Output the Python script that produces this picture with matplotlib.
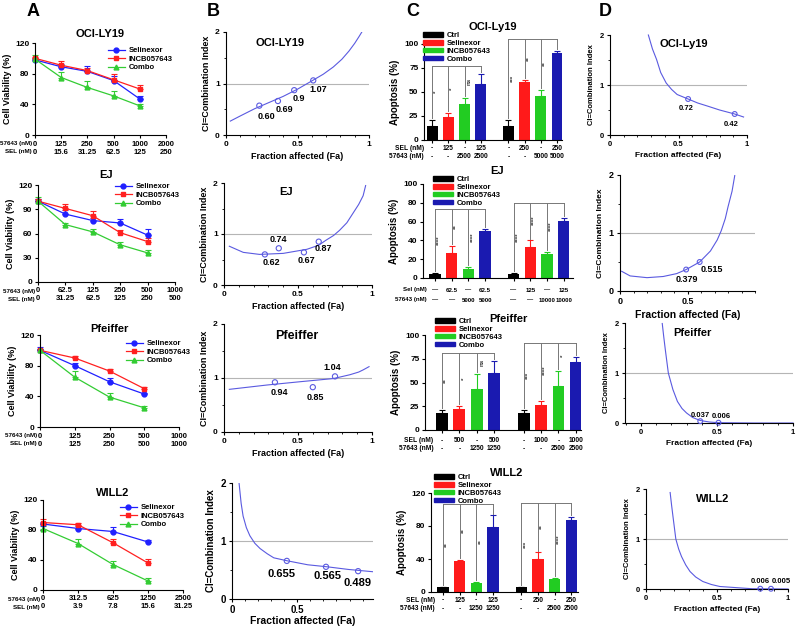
import numpy as np
import matplotlib.pyplot as plt
from matplotlib.patches import Patch
from matplotlib.lines import Line2D
from matplotlib.ticker import MultipleLocator

plt.rcParams['font.family'] = ['Liberation Sans', 'DejaVu Sans']
plt.rcParams['font.weight'] = 'bold'
plt.rcParams['axes.labelweight'] = 'bold'
plt.rcParams['axes.linewidth'] = 0.8
plt.rcParams['xtick.major.width'] = 0.8
plt.rcParams['ytick.major.width'] = 0.8
plt.rcParams['xtick.major.size'] = 2.5
plt.rcParams['ytick.major.size'] = 2.5
plt.rcParams['xtick.minor.size'] = 1.5
plt.rcParams['ytick.minor.size'] = 1.5

W, H = 796, 626

# ---------------- A: cell viability
a_titles = ['OCI-LY19', 'EJ', 'Pfeiffer', 'WILL2']
a_incb_ticks = [['0', '125', '250', '500', '1000', '2000'],
                ['0', '62.5', '125', '250', '500', '1000'],
                ['0', '125', '250', '500', '1000'],
                ['0', '312.5', '625', '1250', '2500']]
a_sel_ticks = [['0', '15.6', '31.25', '62.5', '125', '250'],
               ['0', '31.25', '62.5', '125', '250', '500'],
               ['0', '125', '250', '500', '1000'],
               ['0', '3.9', '7.8', '15.6', '31.25']]
a_sel = [[98, 89, 83, 71, 47], [100, 84, 76, 73, 58], [100, 80, 59, 43], [88, 82, 78, 64]]
a_sel_err = [[3, 3, 7, 6, 4], [3, 5, 3, 5, 7], [4, 3, 5, 2], [3, 3, 6, 3]]
a_incb = [[100, 91, 84, 72, 60], [100, 91, 82, 61, 50], [100, 90, 73, 50], [90, 87, 63, 36]]
a_incb_err = [[2, 6, 3, 8, 5], [3, 5, 6, 3, 4], [2, 3, 3, 2], [5, 2, 5, 6]]
a_combo = [[99, 75, 62, 51, 38], [100, 71, 62, 46, 36], [100, 65, 39, 25], [82, 62, 34, 12]]
a_combo_err = [[5, 7, 8, 6, 2], [5, 2, 3, 4, 3], [2, 8, 6, 2], [3, 6, 5, 4]]
a_yticks = [[0, 40, 80, 120], [0, 30, 60, 90, 120], [0, 40, 80, 120], [0, 40, 80, 120]]

# ---------------- B: combination index, SEL + INCB057643
b_titles = ['OCI-LY19', 'EJ', 'Pfeiffer', '']
b_curve_fa = [[0.03, 0.10, 0.20, 0.30, 0.40, 0.50, 0.60, 0.68, 0.75, 0.81, 0.86, 0.90, 0.93, 0.95],
              [0.036, 0.13, 0.24, 0.40, 0.56, 0.64, 0.69, 0.74, 0.78, 0.83, 0.87, 0.91, 0.94, 0.957],
              [0.036, 0.29, 0.51, 0.74, 0.85, 0.91, 0.94, 0.98],
              [0.054, 0.07, 0.085, 0.11, 0.137, 0.175, 0.215, 0.27, 0.32, 0.42, 0.58, 0.73, 0.89, 1.08]]
b_curve_ci = [[0.27, 0.37, 0.51, 0.63, 0.75, 0.89, 1.05, 1.18, 1.32, 1.47, 1.63, 1.78, 1.91, 2.0],
              [0.76, 0.64, 0.60, 0.62, 0.70, 0.78, 0.88, 0.97, 1.07, 1.22, 1.40, 1.58, 1.75, 1.95],
              [0.79, 0.87, 0.93, 0.99, 1.06, 1.11, 1.15, 1.21],
              [2.0, 1.65, 1.43, 1.23, 1.09, 0.96, 0.87, 0.78, 0.71, 0.66, 0.59, 0.555, 0.51, 0.47]]
b_fa = [[0.233, 0.363, 0.477, 0.61], [0.276, 0.37, 0.54, 0.64], [0.344, 0.60, 0.75], [0.42, 0.72, 0.966]]
b_ci = [[0.57, 0.66, 0.87, 1.06], [0.60, 0.72, 0.64, 0.85], [0.92, 0.83, 1.03], [0.657, 0.555, 0.48]]
b_labels = [['0.60', '0.69', '0.9', '1.07'], ['0.62', '0.74', '0.67', '0.87'],
            ['0.94', '0.85', '1.04'], ['0.655', '0.565', '0.489']]

# ---------------- C: apoptosis
c_titles = ['OCI-Ly19', 'EJ', 'Pfeiffer', 'WILL2']
c_names = ['Ctrl', 'Selinexor', 'INCB057643', 'Combo']
c_means = [[15, 24, 37.5, 58, 15, 60, 46, 91],
           [4, 26.5, 10, 50, 4, 33, 26, 60.5],
           [18, 22, 43, 60, 18, 26, 46.5, 72],
           [5.5, 37, 10.5, 79, 5.5, 40, 16, 87.5]]
c_errs = [[6, 4, 6.5, 11, 6, 2.5, 6, 1.5],
          [1, 7.5, 1.5, 2.5, 1, 7, 2, 3],
          [3, 3.5, 16, 13, 3, 5, 16, 5],
          [1, 2, 1.5, 14, 1, 8, 1.5, 3.5]]
c_stars = [['*', '*', 'ns', '***', '**', '**'],
           ['****', '**', '****', '****', '****', '****'],
           ['**', '*', 'ns', '***', '****', '*'],
           ['**', '**', '**', '***', '**', '****']]
c_row_names = [('SEL (nM)', '57643 (nM)'), ('Sel (nM)', '57643 (nM)'),
               ('SEL (nM)', '57643 (nM)'), ('SEL (nM)', '57643 (nM)')]
c_sel_row = [['-', '125', '-', '125', '-', '250', '-', '250'],
             ['\u2014', '62.5', '\u2014', '62.5', '\u2014', '125', '\u2014', '125'],
             ['-', '500', '-', '500', '-', '1000', '-', '1000'],
             ['-', '125', '-', '125', '-', '250', '-', '250']]
c_incb_row = [['-', '-', '2500', '2500', '-', '-', '5000', '5000'],
              ['\u2014', '\u2014', '5000', '5000', '\u2014', '\u2014', '10000', '10000'],
              ['-', '-', '1250', '1250', '-', '-', '2500', '2500'],
              ['-', '-', '1250', '1250', '-', '-', '2500', '2500']]
c_yticks = [[0, 25, 50, 75, 100], [0, 20, 40, 60, 80, 100], [0, 25, 50, 75, 100], [0, 40, 80, 120]]

# ---------------- D: combination index, second combination
d_titles = ['OCI-Ly19', '', 'Pfeiffer', 'WILL2']
d_curve_fa = [[0.28, 0.31, 0.34, 0.37, 0.41, 0.45, 0.49, 0.57, 0.64, 0.71, 0.80, 0.91, 0.975],
              [0.012, 0.075, 0.2, 0.32, 0.42, 0.49, 0.59, 0.67, 0.72, 0.75, 0.78, 0.80, 0.83, 0.85],
              [0.14, 0.15, 0.16, 0.18, 0.21, 0.24, 0.27, 0.30, 0.34, 0.39, 0.45, 0.51, 0.74, 1.0],
              [0.17, 0.18, 0.19, 0.21, 0.23, 0.25, 0.28, 0.31, 0.35, 0.40, 0.46, 0.52, 0.75, 1.0]]
d_curve_ci = [[2.0, 1.72, 1.51, 1.25, 1.04, 0.91, 0.81, 0.72, 0.64, 0.58, 0.50, 0.42, 0.36],
              [0.34, 0.26, 0.23, 0.25, 0.30, 0.37, 0.50, 0.69, 0.88, 1.04, 1.25, 1.45, 1.72, 1.99],
              [1.99, 1.72, 1.47, 1.0, 0.67, 0.43, 0.29, 0.20, 0.11, 0.05, 0.02, 0.006, 0.0, 0.0],
              [1.93, 1.68, 1.45, 1.0, 0.80, 0.65, 0.48, 0.35, 0.24, 0.15, 0.09, 0.05, 0.005, 0.0]]
d_fa = [[0.57, 0.91], [0.49, 0.59], [0.39, 0.51], [0.805, 0.88]]
d_ci = [[0.72, 0.42], [0.37, 0.50], [0.037, 0.006], [0.006, 0.005]]
d_labels = [['0.72', '0.42'], ['0.379', '0.515'], ['0.037', '0.006'], ['0.006', '0.005']]

fig = plt.figure(figsize=(W / 100, H / 100), dpi=100)


def add_ax(l, t, r, b):
    return fig.add_axes([l / W, 1 - b / H, (r - l) / W, (b - t) / H])


def fpt(px, py):
    return (px / W, 1 - py / H)


for lbl, px in zip('ABCD', [33, 213, 413, 605]):
    fig.text(*fpt(px, 12), lbl, fontsize=13, weight='bold', ha='center', va='center')

# ---- column A
a_boxes = [(35, 43, 166, 135), (38, 185, 175, 282), (40, 335, 179, 427), (43, 500, 183, 590)]
a_title_y = [34, 175, 329, 493]
a_leg = [(108, 47), (115, 183), (126, 340), (120, 504)]
a_series = [(a_sel, a_sel_err, '#2020ff', 'o', 'Selinexor'),
            (a_incb, a_incb_err, '#ff2020', 's', 'INCB057643'),
            (a_combo, a_combo_err, '#33cc33', '^', 'Combo')]
for k in range(4):
    ax = add_ax(*a_boxes[k])
    handles = []
    for vals, errs, col, mk, lab in a_series:
        v = vals[k]
        e = errs[k]
        x = np.arange(len(v))
        ax.errorbar(x, v, yerr=[np.zeros(len(e)), e], color=col, marker=mk, ms=3.5, lw=0.9,
                    elinewidth=0.8, capsize=2, capthick=0.8, clip_on=False)
        handles.append(Line2D([], [], color=col, marker=mk, ms=3.5, lw=0.9, label=lab))
    nt = len(a_incb_ticks[k])
    ax.set_xlim(0, nt - 1)
    ax.set_ylim(0, 120)
    ax.set_yticks(a_yticks[k])
    ax.set_xticks(range(nt))
    ax.set_xticklabels([])
    ax.tick_params(labelsize=6, pad=1.5)
    for i in range(nt):
        ax.annotate(a_incb_ticks[k][i], xy=(i, 0), xycoords=('data', 'axes fraction'), xytext=(0, -9),
                    textcoords='offset pixels', ha='center', va='center', fontsize=5.5)
        ax.annotate(a_sel_ticks[k][i], xy=(i, 0), xycoords=('data', 'axes fraction'), xytext=(0, -17),
                    textcoords='offset pixels', ha='center', va='center', fontsize=5.5)
    ax.annotate('57643 (nM)', xy=(0, 0), xycoords='axes fraction', xytext=(-3, -9),
                textcoords='offset pixels', ha='right', va='center', fontsize=4.5)
    ax.annotate('SEL (nM)', xy=(0, 0), xycoords='axes fraction', xytext=(-3, -17),
                textcoords='offset pixels', ha='right', va='center', fontsize=4.5)
    ax.spines[['top', 'right']].set_visible(False)
    ax.set_ylabel('Cell Viability (%)', fontsize=6.5, labelpad=2)
    x0, y0, w0, h0 = ax.get_position().bounds
    fig.text(x0 + w0 / 2, 1 - a_title_y[k] / H, a_titles[k], fontsize=8, ha='center', va='center')
    ax.legend(handles=handles, loc='upper left', bbox_to_anchor=fpt(*a_leg[k]), bbox_transform=fig.transFigure,
              frameon=False, fontsize=5.5, handlelength=2.2, handletextpad=0.5, labelspacing=0.15,
              borderaxespad=0, borderpad=0)


def ci_axes(ax, xlim, xticks, fs_tick, fs_xl, fs_yl, xpad=3):
    ax.axhline(1, color='#b5b5b5', lw=0.8, zorder=0)
    ax.set_xlim(*xlim)
    ax.set_ylim(0, 2)
    ax.set_xticks(xticks)
    ax.set_xticklabels([('%g' % t) for t in xticks])
    ax.set_yticks([0, 1, 2])
    ax.xaxis.set_minor_locator(MultipleLocator(0.1))
    ax.yaxis.set_minor_locator(MultipleLocator(0.5))
    ax.tick_params(labelsize=fs_tick, pad=2)
    ax.spines[['top', 'right']].set_visible(False)
    ax.set_xlabel('Fraction affected (Fa)', fontsize=fs_xl, labelpad=xpad)
    ax.set_ylabel('CI=Combination Index', fontsize=fs_yl, labelpad=3)


curve_col = '#5a5ae0'

# ---- column B
b_boxes = [(226, 32, 369, 135), (224, 183, 372, 285), (224, 324, 372, 432), (232, 483, 373, 599)]
b_xlims = [(0, 1), (0, 1), (0, 1), (0, 1.08)]
b_xticks = [[0, 0.5, 1], [0, 0.5, 1], [0, 0.5, 1], [0, 0.5]]
b_title_pos = [(0.38, 1.79, 8), (0.42, 1.82, 8), (0.49, 1.77, 9), (0, 0, 8)]
b_offs = [[(7, -11), (7, -8), (5, -8), (5, -9)], [(7, -8), (0, 9), (3, -8), (5, -7)],
          [(4, -10), (3, -10), (-3, 9)], [(-5, -13), (1, -9), (-1, -12)]]
for k in range(4):
    ax = add_ax(*b_boxes[k])
    big = k == 3
    ci_axes(ax, b_xlims[k], b_xticks[k], 7 if big else 6, 7.5 if big else 6.5, 7 if big else 6.5,
            xpad=0.5 if big else 3)
    ax.plot(b_curve_fa[k], b_curve_ci[k], color=curve_col, lw=0.8)
    ax.scatter(b_fa[k], b_ci[k], s=14, facecolors='none', edgecolors=curve_col, linewidths=0.8, zorder=3)
    for fa, ci, lab, off in zip(b_fa[k], b_ci[k], b_labels[k], b_offs[k]):
        ax.annotate(lab, xy=(fa, ci), xytext=off, textcoords='offset pixels', ha='center', va='center',
                    fontsize=8 if big else 6.5)
    if b_titles[k]:
        tx, ty, tfs = b_title_pos[k]
        ax.text(tx, ty, b_titles[k], ha='center', va='center', fontsize=tfs)

# ---- column C
c_pos = [0, 1, 2, 3, 4.7, 5.7, 6.7, 7.7]
c_colors = ['black', '#ff1a1a', '#22cc22', '#1a1ab0']
c_boxes = [(424, 44, 562, 140), (423, 184, 573, 278), (425, 335, 581, 430), (431, 493, 578, 592)]
c_xlims = [(-0.5, 8.0), (-0.72, 8.26), (-0.98, 8.0), (-0.72, 8.1)]
c_ytop = [100, 100, 100, 120]
c_title_xy = [(493, 27), (497, 171), (508, 319), (507, 473)]
c_leg = [(423, 32), (433, 176), (435, 318), (434, 474)]
c_rows = [(8, 17), (12, 22), (11, 19), (8, 17)]
c_row_fs = [4.8, 4.4, 4.8, 4.8]
c_bracket_y = [(77, 105), (73, 80), (81, 92), (107, 108)]
for k in range(4):
    ax = add_ax(*c_boxes[k])
    cols = c_colors * 2
    ax.bar(c_pos, c_means[k], width=0.68, color=cols, zorder=2)
    for i in range(8):
        ax.errorbar(c_pos[i], c_means[k][i], yerr=[[0], [c_errs[k][i]]], color=cols[i],
                    elinewidth=0.8, capsize=2, capthick=0.8, zorder=1)
    for g in range(2):
        idx = range(4 * g, 4 * g + 4)
        yb = c_bracket_y[k][g]
        ax.plot([c_pos[4 * g], c_pos[4 * g + 3]], [yb, yb], color='#777777', lw=0.7, clip_on=False)
        for j, i in enumerate(idx):
            low = c_means[k][i] + c_errs[k][i] + 2
            ax.plot([c_pos[i], c_pos[i]], [yb, low], color='#777777', lw=0.7, clip_on=False)
            if j < 3:
                ax.text(c_pos[i] + 0.28, (yb + low) / 2, c_stars[k][3 * g + j], rotation=90,
                        ha='center', va='center', fontsize=4.5, color='#333333')
    ax.set_xlim(*c_xlims[k])
    ax.set_ylim(0, c_ytop[k])
    ax.set_yticks(c_yticks[k])
    ax.set_xticks(c_pos)
    ax.set_xticklabels([])
    ax.tick_params(axis='x', length=2)
    ax.tick_params(labelsize=6, pad=1.5)
    ax.spines[['top', 'right']].set_visible(False)
    ax.set_ylabel('Apoptosis (%)', fontsize=7, labelpad=3)
    fs_row = c_row_fs[k]
    r1, r2 = c_rows[k]
    for i in range(8):
        ax.annotate(c_sel_row[k][i], xy=(c_pos[i], 0), xycoords=('data', 'axes fraction'), xytext=(0, -r1),
                    textcoords='offset pixels', ha='center', va='center', fontsize=fs_row)
        ax.annotate(c_incb_row[k][i], xy=(c_pos[i], 0), xycoords=('data', 'axes fraction'), xytext=(0, -r2),
                    textcoords='offset pixels', ha='center', va='center', fontsize=fs_row)
    ax.annotate(c_row_names[k][0], xy=(-0.5, 0), xycoords=('data', 'axes fraction'), xytext=(0, -r1),
                textcoords='offset pixels', ha='right', va='center', fontsize=fs_row)
    ax.annotate(c_row_names[k][1], xy=(-0.5, 0), xycoords=('data', 'axes fraction'), xytext=(0, -r2),
                textcoords='offset pixels', ha='right', va='center', fontsize=fs_row)
    fig.text(*fpt(*c_title_xy[k]), c_titles[k], fontsize=8, ha='center', va='center')
    handles = [Patch(color=c) for c in c_colors]
    ax.legend(handles, c_names, loc='upper left', bbox_to_anchor=fpt(*c_leg[k]), bbox_transform=fig.transFigure,
              frameon=False, fontsize=5.5, handlelength=2.6, handleheight=0.55, handletextpad=0.5,
              labelspacing=0.12, borderaxespad=0, borderpad=0)

# ---- column D
d_boxes = [(610, 35, 747, 135), (620, 175, 755, 291), (625, 323, 793, 423), (646, 489, 788, 589)]
d_xlims = [(0, 1), (0, 1), (-0.105, 1), (0, 1)]
d_xticks = [[0, 0.5, 1], [0, 0.5], [0, 0.5, 1], [0, 0.5, 1]]
d_title_pos = [(0.54, 1.82), (0, 0), (0.34, 1.79), (0.47, 1.81)]
d_offs = [[(-2, -10), (-3, -10)], [(1, -10), (12, -7)], [(0, 6), (3, 6)], [(0, 7), (10, 7)]]
for k in range(4):
    ax = add_ax(*d_boxes[k])
    big = k == 1
    ci_axes(ax, d_xlims[k], d_xticks[k], 6.5 if big else 5.5, 7.5 if big else 6, 6 if big else 5.5)
    ax.plot(d_curve_fa[k], d_curve_ci[k], color=curve_col, lw=0.8, clip_on=False)
    ax.scatter(d_fa[k], d_ci[k], s=12, facecolors='none', edgecolors=curve_col, linewidths=0.8,
               zorder=3, clip_on=False)
    for fa, ci, lab, off in zip(d_fa[k], d_ci[k], d_labels[k], d_offs[k]):
        ax.annotate(lab, xy=(fa, ci), xytext=off, textcoords='offset pixels', ha='center', va='center',
                    fontsize=6.5 if big else 5.5)
    if d_titles[k]:
        tx, ty = d_title_pos[k]
        ax.text(tx, ty, d_titles[k], ha='center', va='center', fontsize=8)

fig.savefig('out.png', dpi=100)
